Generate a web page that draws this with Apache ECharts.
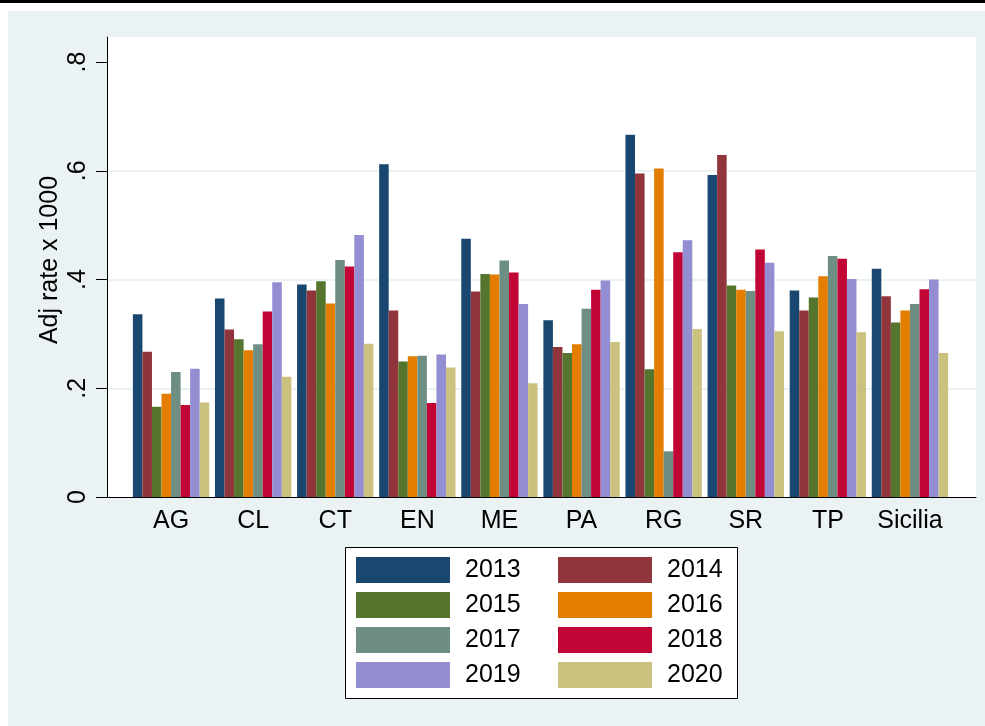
<!DOCTYPE html>
<html>
<head>
<meta charset="utf-8">
<script src="https://cdn.jsdelivr.net/npm/echarts@6/dist/echarts.min.js"></script>
<style>
  html, body { margin: 0; padding: 0; background: #fff; }
  #topbar { position: absolute; left: 0; top: 0; width: 985px; height: 3px; background: #000; }
  #chart { position: absolute; left: 8px; top: 11px; width: 977px; height: 715px; }
</style>
</head>
<body>
<div id="topbar"></div>
<div id="chart"></div>
<script>
  const categories = ['AG', 'CL', 'CT', 'EN', 'ME', 'PA', 'RG', 'SR', 'TP', 'Sicilia']
  const years = ['2013', '2014', '2015', '2016', '2017', '2018', '2019', '2020']
  const yearColors = ['#1a476f', '#90353b', '#55752f', '#e37e00', '#6e8e84', '#c10534', '#938dd2', '#cac27e']
  const yTicks = [0, 0.2, 0.4, 0.6, 0.8]

  // one array per year, ordered like categories
  const v2013 = [0.336, 0.365, 0.391, 0.612, 0.475, 0.325, 0.666, 0.592, 0.380, 0.420]
  const v2014 = [0.267, 0.308, 0.380, 0.343, 0.378, 0.276, 0.595, 0.629, 0.343, 0.369]
  const v2015 = [0.166, 0.290, 0.397, 0.249, 0.410, 0.265, 0.235, 0.389, 0.367, 0.321]
  const v2016 = [0.190, 0.270, 0.356, 0.259, 0.409, 0.281, 0.604, 0.381, 0.406, 0.343]
  const v2017 = [0.230, 0.281, 0.436, 0.260, 0.435, 0.346, 0.084, 0.379, 0.443, 0.355]
  const v2018 = [0.169, 0.341, 0.424, 0.173, 0.413, 0.381, 0.450, 0.455, 0.438, 0.382]
  const v2019 = [0.236, 0.395, 0.482, 0.262, 0.355, 0.398, 0.472, 0.431, 0.401, 0.400]
  const v2020 = [0.174, 0.221, 0.282, 0.238, 0.209, 0.285, 0.309, 0.305, 0.303, 0.265]
  const values = [v2013, v2014, v2015, v2016, v2017, v2018, v2019, v2020]

  const font = "'Liberation Sans', Arial, sans-serif"
  const yMax = yTicks[yTicks.length - 1]
  const yStep = yTicks[1] - yTicks[0]

  const chart = echarts.init(document.getElementById('chart'))

  const legendBase = {
    orient: 'vertical',
    top: 546,
    padding: 0,
    itemWidth: 94,
    itemHeight: 26,
    itemGap: 9,
    icon: 'rect',
    selectedMode: false,
    textStyle: {fontSize: 25, color: '#000', fontFamily: font, padding: [3, 0, 0, 10]}
  }

  chart.setOption({
    backgroundColor: '#eaf2f3',
    animation: false,
    textStyle: {fontFamily: font},
    grid: [
      // plot frame (white region + axis lines)
      {left: 99, right: 9, top: 26, bottom: 229, show: true, backgroundColor: '#fff', borderWidth: 0},
      // y scale, ticks and gridlines
      {left: 99, right: 9, top: 51, bottom: 229},
      // bars
      {left: 122, right: 34, top: 51, bottom: 229}
    ],
    xAxis: [
      {gridIndex: 0, type: 'value', min: 0, max: 1, z: 5,
        axisLine: {show: true, lineStyle: {color: '#000', width: 1}},
        axisTick: {show: false}, axisLabel: {show: false}, splitLine: {show: false}},
      {gridIndex: 1, type: 'value', min: 0, max: 1, show: false},
      {gridIndex: 2, type: 'category', data: categories,
        axisLine: {show: false}, axisTick: {show: false}, splitLine: {show: false},
        axisLabel: {interval: 0, fontSize: 25, color: '#000', margin: 12, fontFamily: font}}
    ],
    yAxis: [
      {gridIndex: 0, type: 'value', min: 0, max: 1,
        axisLine: {show: true, lineStyle: {color: '#000', width: 1}},
        axisTick: {show: false}, axisLabel: {show: false}, splitLine: {show: false},
        name: 'Adj rate x 1000', nameLocation: 'middle', nameGap: 44,
        nameTextStyle: {fontSize: 25, color: '#000', fontFamily: font, padding: [0, 0, 0, 14]}},
      {gridIndex: 1, type: 'value', min: 0, max: yMax, interval: yStep,
        axisLine: {show: false},
        axisTick: {show: true, length: 11, lineStyle: {color: '#000', width: 1}},
        axisLabel: {fontSize: 25, color: '#000', rotate: 90, margin: 16, fontFamily: font,
          formatter: v => v === 0 ? '0' : v.toFixed(1).replace(/^0/, '')},
        splitLine: {show: true, lineStyle: {width: 2,
          color: ['rgba(0,0,0,0)', '#eaf2f3', '#eaf2f3', '#eaf2f3', 'rgba(0,0,0,0)']}}},
      {gridIndex: 2, type: 'value', min: 0, max: yMax, show: false}
    ],
    legend: [
      Object.assign({}, legendBase, {left: 348, data: years.filter((y, i) => i % 2 === 0)}),
      Object.assign({}, legendBase, {left: 550, data: years.filter((y, i) => i % 2 === 1)})
    ],
    graphic: [{
      type: 'rect', left: 337, top: 536, z: 1, silent: true,
      shape: {width: 392, height: 151},
      style: {fill: '#fff', stroke: '#000', lineWidth: 1}
    }],
    series: years.map((y, i) => ({
      name: y,
      type: 'bar',
      xAxisIndex: 2,
      yAxisIndex: 2,
      data: values[i],
      barGap: '0%',
      barCategoryGap: '7%',
      itemStyle: {color: yearColors[i]}
    }))
  })
</script>
</body>
</html>
